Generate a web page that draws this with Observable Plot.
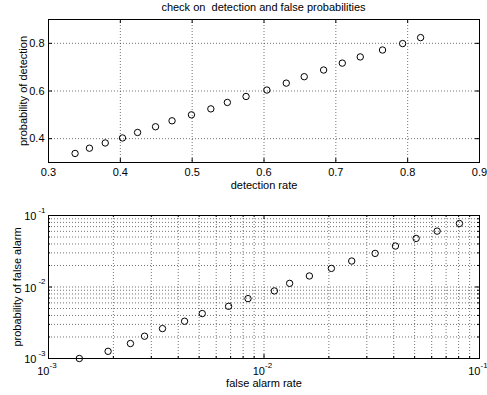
<!DOCTYPE html>
<html>
<head>
<meta charset="utf-8">
<script src="https://cdn.jsdelivr.net/npm/d3@7"></script>
<script src="https://cdn.jsdelivr.net/npm/@observablehq/plot@0.6"></script>
<style>
  html, body { margin: 0; padding: 0; background: white; }
  #wrap { width: 487px; height: 395px; position: relative; overflow: hidden; font-family: "Liberation Sans", Arial, Helvetica, sans-serif; }
  #title { height: 13px; line-height: 14px; font-size: 11px; text-align: center; white-space: pre; padding: 0 8px 0 48px; color: #000; }
  svg { display: block; }
</style>
</head>
<body>
<div id="wrap">
  <div id="title">check on  detection and false probabilities</div>
  <div id="p1"></div>
  <div id="p2"></div>
</div>
<script>
// ---- data ----
const detectionRate = [0.337, 0.357, 0.379, 0.403, 0.424, 0.449, 0.472, 0.499, 0.526, 0.549, 0.575, 0.604, 0.631, 0.656, 0.683, 0.709, 0.734, 0.765, 0.793, 0.818];
const probDetection = [0.338, 0.360, 0.382, 0.403, 0.426, 0.450, 0.475, 0.500, 0.525, 0.552, 0.577, 0.604, 0.633, 0.660, 0.688, 0.717, 0.743, 0.772, 0.799, 0.824];

const falseAlarmRate = [0.00139, 0.00189, 0.00240, 0.00279, 0.00338, 0.00428, 0.00517, 0.00685, 0.00843, 0.01117, 0.01315, 0.01624, 0.02054, 0.02553, 0.03278, 0.04073, 0.05082, 0.0636, 0.0807];
const probFalseAlarm = [0.00100, 0.00126, 0.00162, 0.00205, 0.00262, 0.00332, 0.00425, 0.00537, 0.00688, 0.00881, 0.01125, 0.01426, 0.0182, 0.02307, 0.0295, 0.0374, 0.0478, 0.0605, 0.0773];

// ---- ticks ----
const topXTicks = [0.3, 0.4, 0.5, 0.6, 0.7, 0.8, 0.9];
const topXTickLabels = ["0.3", "0.4", "0.5", "0.6", "0.7", "0.8", "0.9"];
const topYTicks = [0.4, 0.6, 0.8];
const topYTickLabels = ["0.4", "0.6", "0.8"];

const logMajor = [0.001, 0.01, 0.1];
const logBase = ["10", "10", "10"];
const logExpLabels = ["-3", "-2", "-1"];
const logMinor = d3.scaleLog().domain([0.001, 0.1]).ticks().filter(v => !logMajor.some(m => Math.abs(m - v) / m < 1e-9));

const font = "Liberation Sans, Arial, Helvetica, sans-serif";
const gridStyle = {stroke: "#000", strokeOpacity: 0.55, strokeDasharray: "1,2", strokeWidth: 1};
const txt = {fill: "#000", fontSize: 11, lineAnchor: "middle"};
const W = 487, ML = 48, MR = 8;
const innerW = W - ML - MR;

// ---- top plot ----
const H1 = 187, MT1 = 6, MB1 = 38, innerH1 = H1 - MT1 - MB1;
const plotTop = Plot.plot({
  width: W, height: H1,
  marginLeft: ML, marginRight: MR, marginTop: MT1, marginBottom: MB1,
  style: {fontFamily: font, fontSize: "11px", background: "white", overflow: "visible", color: "#000"},
  x: {domain: [0.3, 0.9], axis: null},
  y: {domain: [0.3, 0.9], axis: null},
  marks: [
    Plot.gridX(topXTicks, gridStyle),
    Plot.gridY(topYTicks, gridStyle),
    Plot.tickX(topXTicks, {x: d => d, insetTop: innerH1 - 4, stroke: "#000"}),
    Plot.tickX(topXTicks, {x: d => d, insetBottom: innerH1 - 4, stroke: "#000"}),
    Plot.tickY(topYTicks, {y: d => d, insetRight: innerW - 4, stroke: "#000"}),
    Plot.tickY(topYTicks, {y: d => d, insetLeft: innerW - 4, stroke: "#000"}),
    Plot.frame({stroke: "#000", strokeWidth: 1}),
    Plot.dot(detectionRate.map((x, i) => ({x, y: probDetection[i]})), {x: "x", y: "y", r: 3.2, stroke: "#000", strokeWidth: 1, fill: "none"}),
    Plot.text(topXTicks, {...txt, x: d => d, text: (d, i) => topXTickLabels[i], frameAnchor: "bottom", textAnchor: "middle", dy: 10}),
    Plot.text(topYTicks, {...txt, y: d => d, text: (d, i) => topYTickLabels[i], frameAnchor: "left", textAnchor: "end", dx: -4}),
    Plot.text(["detection rate"], {...txt, text: d => d, frameAnchor: "bottom", textAnchor: "middle", dy: 23}),
    Plot.text(["probability of detection"], {...txt, text: d => d, frameAnchor: "left", textAnchor: "middle", rotate: -90, dx: -25})
  ]
});
document.getElementById("p1").appendChild(plotTop);

// ---- bottom plot ----
const H2 = 195, MT2 = 15, MB2 = 37, innerH2 = H2 - MT2 - MB2;
const plotBottom = Plot.plot({
  width: W, height: H2,
  marginLeft: ML, marginRight: MR, marginTop: MT2, marginBottom: MB2,
  style: {fontFamily: font, fontSize: "11px", background: "white", overflow: "visible", color: "#000"},
  x: {type: "log", domain: [0.001, 0.1], axis: null},
  y: {type: "log", domain: [0.001, 0.1], axis: null},
  marks: [
    Plot.gridX(logMinor, gridStyle),
    Plot.gridY(logMinor, gridStyle),
    Plot.gridX(logMajor, gridStyle),
    Plot.gridY(logMajor, gridStyle),
    Plot.tickX(logMajor, {x: d => d, insetTop: innerH2 - 4, stroke: "#000"}),
    Plot.tickX(logMajor, {x: d => d, insetBottom: innerH2 - 4, stroke: "#000"}),
    Plot.tickY(logMajor, {y: d => d, insetRight: innerW - 4, stroke: "#000"}),
    Plot.tickY(logMajor, {y: d => d, insetLeft: innerW - 4, stroke: "#000"}),
    Plot.tickX(logMinor, {x: d => d, insetTop: innerH2 - 2, stroke: "#000"}),
    Plot.tickX(logMinor, {x: d => d, insetBottom: innerH2 - 2, stroke: "#000"}),
    Plot.tickY(logMinor, {y: d => d, insetRight: innerW - 2, stroke: "#000"}),
    Plot.tickY(logMinor, {y: d => d, insetLeft: innerW - 2, stroke: "#000"}),
    Plot.frame({stroke: "#000", strokeWidth: 1}),
    Plot.dot(falseAlarmRate.map((x, i) => ({x, y: probFalseAlarm[i]})), {x: "x", y: "y", r: 3.2, stroke: "#000", strokeWidth: 1, fill: "none"}),
    // x tick labels 10^e
    Plot.text(logMajor, {...txt, x: d => d, text: (d, i) => logBase[i], frameAnchor: "bottom", textAnchor: "end", dx: 1, dy: 13}),
    Plot.text(logMajor, {...txt, x: d => d, text: (d, i) => logExpLabels[i], frameAnchor: "bottom", textAnchor: "start", dx: 1, dy: 6.5, fontSize: 8}),
    // y tick labels 10^e
    Plot.text(logMajor, {...txt, y: d => d, text: (d, i) => logBase[i], frameAnchor: "left", textAnchor: "end", dx: -12, dy: 1}),
    Plot.text(logMajor, {...txt, y: d => d, text: (d, i) => logExpLabels[i], frameAnchor: "left", textAnchor: "end", dx: -3, dy: -5.5, fontSize: 8}),
    Plot.text(["false alarm rate"], {...txt, text: d => d, frameAnchor: "bottom", textAnchor: "middle", dy: 25}),
    Plot.text(["probability of false alarm"], {...txt, text: d => d, frameAnchor: "left", textAnchor: "middle", rotate: -90, dx: -31})
  ]
});
document.getElementById("p2").appendChild(plotBottom);
</script>
</body>
</html>
